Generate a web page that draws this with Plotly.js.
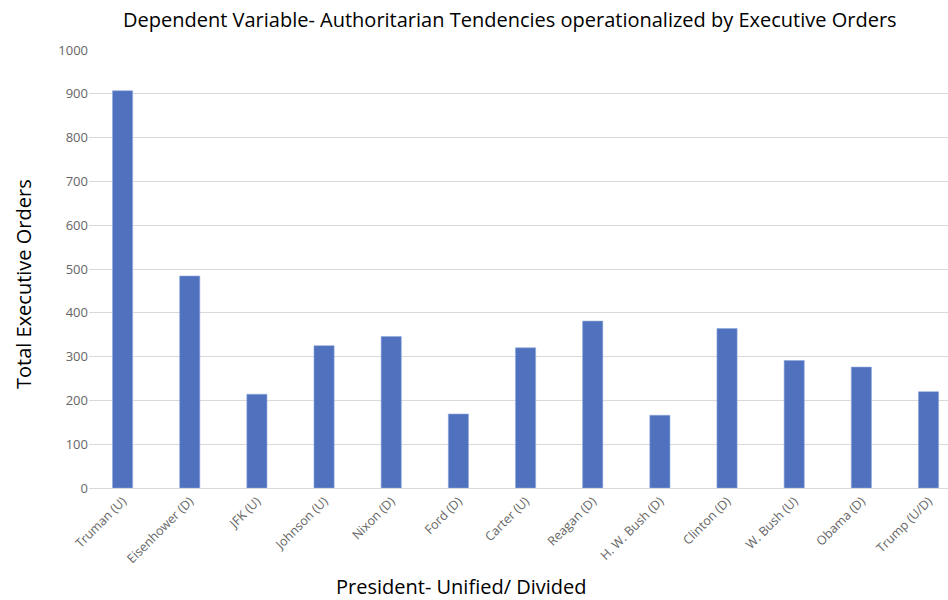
<!DOCTYPE html>
<html>
<head>
<meta charset="utf-8">
<script src="https://cdn.plot.ly/plotly-3.0.1.min.js"></script>
<style>
  html, body { margin: 0; padding: 0; background: #fff; }
  #chart { width: 948px; height: 600px; }
</style>
</head>
<body>
<div id="chart"></div>
<script>
// Executive orders per president, with Congress control (U = unified, D = divided)
const presidents = ["Truman (U)", "Eisenhower (D)", "JFK (U)", "Johnson (U)", "Nixon (D)", "Ford (D)",
  "Carter (U)", "Reagan (D)", "H. W. Bush (D)", "Clinton (D)", "W. Bush (U)", "Obama (D)", "Trump (U/D)"];
const executiveOrders = [907, 484, 214, 325, 346, 169, 320, 381, 166, 364, 291, 276, 220];
const yTicks = [0, 100, 200, 300, 400, 500, 600, 700, 800, 900, 1000];

const chartTitle = "Dependent Variable- Authoritarian Tendencies operationalized by Executive Orders";
const xTitle = "President- Unified/ Divided";
const yTitle = "Total Executive Orders";

const trace = {
  type: "bar",
  x: presidents.map((_, i) => i),
  y: executiveOrders,
  marker: { color: "#4f71be", line: { color: "#8fa8dc", width: 0.6 } },
  hoverinfo: "y"
};

const W = 948, H = 600;
const titleFont = { family: "Open Sans, sans-serif", size: 20, color: "#000000" };

const layout = {
  width: W,
  height: H,
  margin: { l: 89, r: 0, t: 50, b: 112 },
  paper_bgcolor: "#ffffff",
  plot_bgcolor: "#ffffff",
  bargap: 0.7,
  showlegend: false,
  font: { family: "Open Sans, Liberation Sans, sans-serif", color: "#595959" },
  xaxis: {
    range: [-0.5, 12.29],
    tickmode: "array",
    tickvals: presidents.map((_, i) => i),
    ticktext: presidents,
    tickangle: -45,
    tickfont: { size: 12.5, color: "#666666" },
    showgrid: false,
    showline: true,
    linecolor: "#d9d9d9",
    linewidth: 1,
    ticks: "",
    zeroline: false,
    fixedrange: true
  },
  yaxis: {
    range: [0, 1000],
    tickmode: "array",
    tickvals: yTicks,
    tickfont: { size: 13, color: "#666666" },
    gridcolor: "#d9d9d9",
    gridwidth: 1,
    zeroline: false,
    showline: false,
    ticks: "",
    fixedrange: true
  },
  // Chart and axis titles placed as pixel-anchored annotations
  annotations: [
    {
      text: chartTitle, font: titleFont, showarrow: false,
      xref: "paper", yref: "paper",
      x: (510 - 89) / (W - 89), y: 1 + (50 - 20) / (H - 162),
      xanchor: "center", yanchor: "middle"
    },
    {
      text: xTitle, font: titleFont, showarrow: false,
      xref: "paper", yref: "paper",
      x: (461 - 89) / (W - 89), y: -(586 - 488) / (H - 162),
      xanchor: "center", yanchor: "middle"
    },
    {
      text: yTitle, font: titleFont, showarrow: false, textangle: -90,
      xref: "paper", yref: "paper",
      x: -(89 - 23) / (W - 89), y: (488 - 284) / (H - 162),
      xanchor: "center", yanchor: "middle"
    }
  ]
};

Plotly.newPlot("chart", [trace], layout, { displayModeBar: false, staticPlot: true });
</script>
</body>
</html>
